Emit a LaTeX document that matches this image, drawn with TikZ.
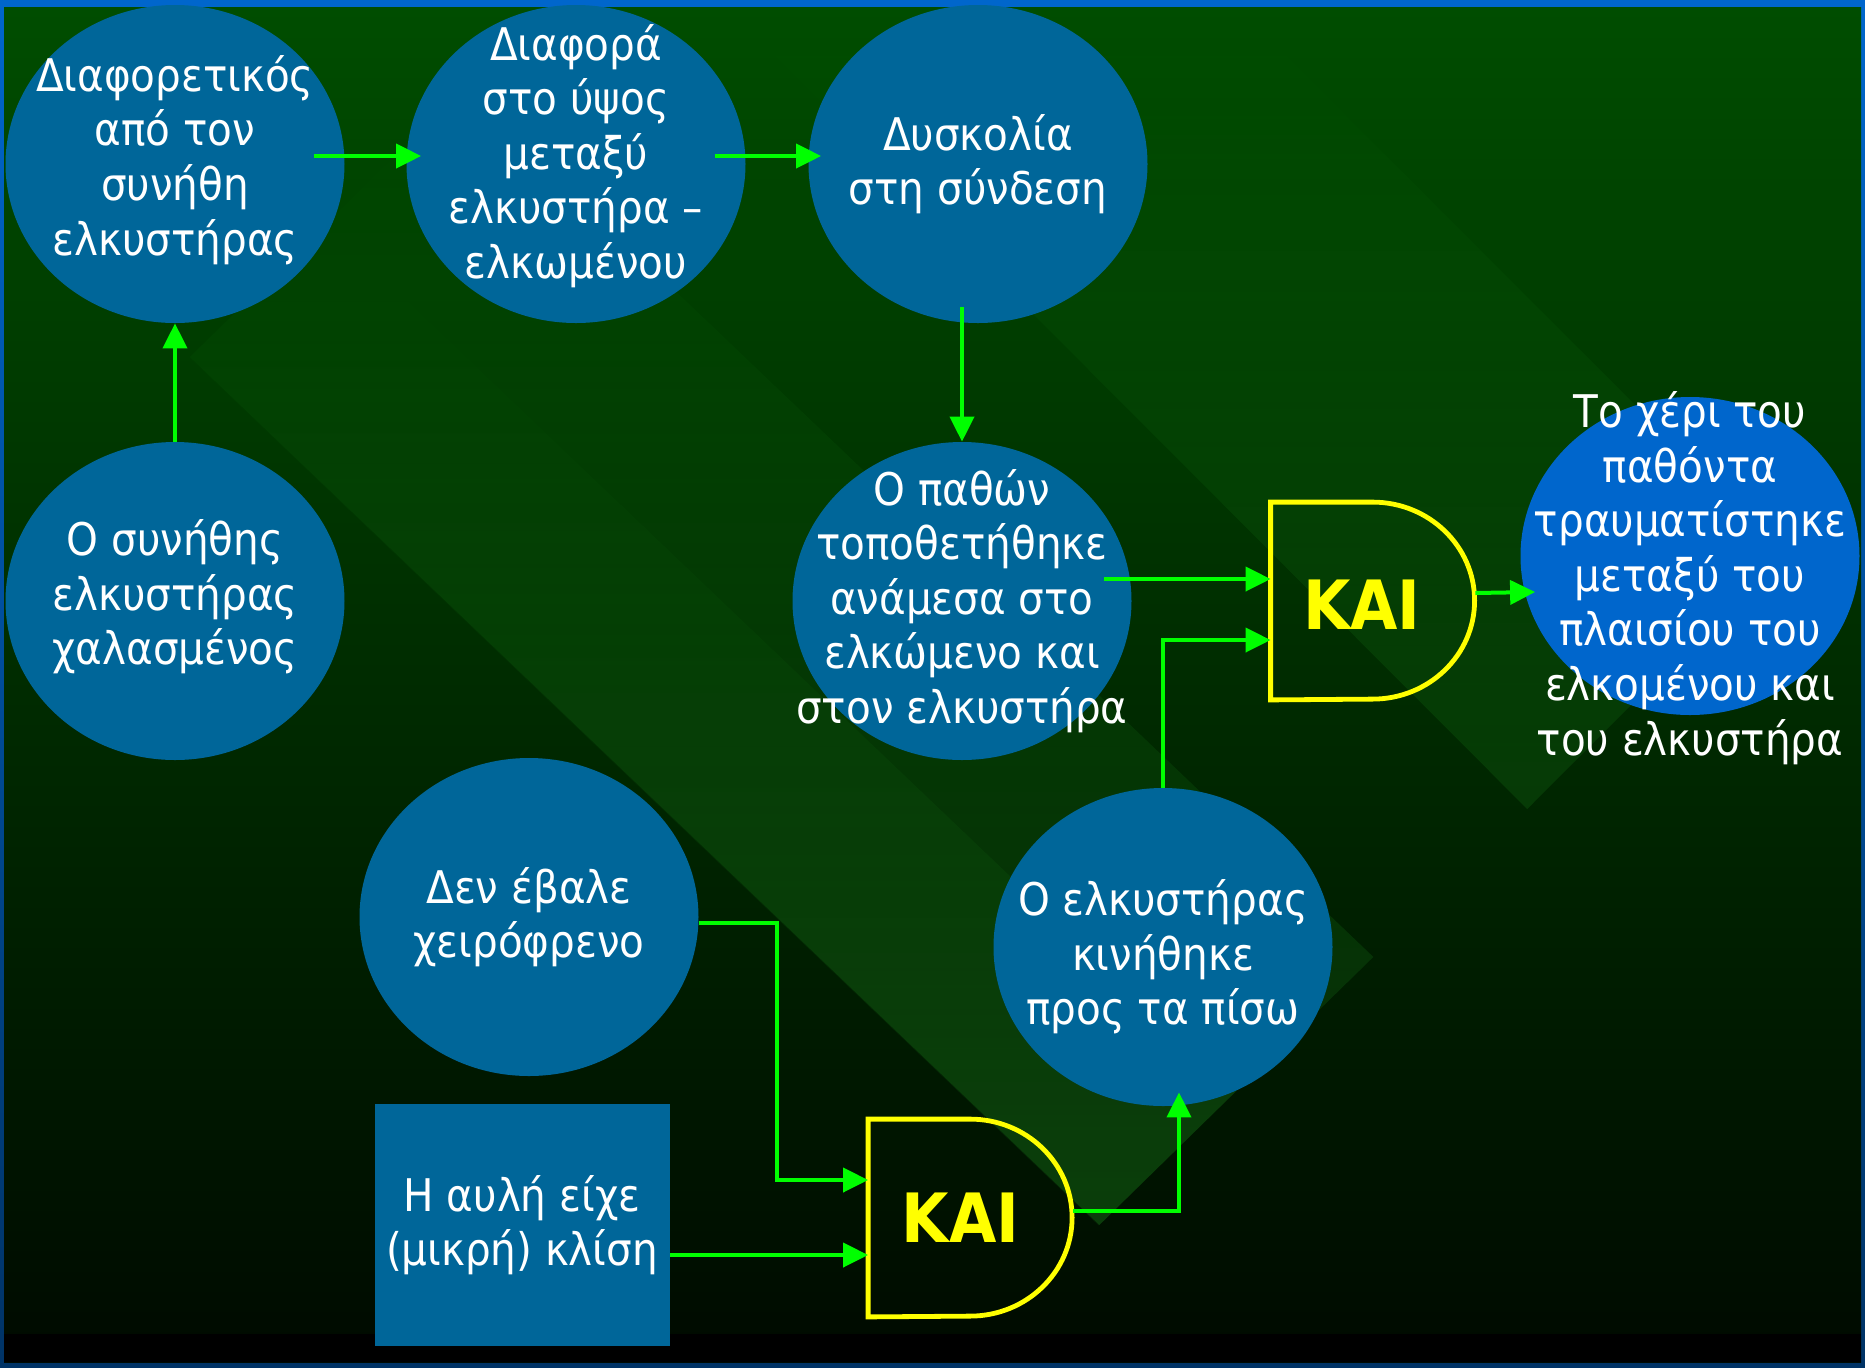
\documentclass[tikz,border=0pt]{standalone}
\usepackage{fontspec}
\setmainfont{DejaVu Sans Condensed}
\usepackage{tikz}
\usetikzlibrary{shapes.geometric, positioning, arrows.meta, fadings}

\definecolor{bubblue}{RGB}{0,102,153}
\definecolor{resblue}{RGB}{0,102,204}
\definecolor{flowgreen}{RGB}{0,255,0}
\definecolor{gateyellow}{RGB}{255,255,0}
\definecolor{frametop}{RGB}{0,102,204}
\definecolor{framebot}{RGB}{0,51,102}
\definecolor{bgtop}{RGB}{0,77,0}
\definecolor{bgmid}{RGB}{0,44,0}
\definecolor{bgbot}{RGB}{0,10,0}
\definecolor{bandgreen}{RGB}{40,170,40}

\tikzset{
  bubble/.style={ellipse, fill=bubblue, minimum width=169.5pt, minimum height=159pt, inner sep=0pt},
  bubtext/.style={text=white, align=center, font=\fontsize{22.5}{27.3}\selectfont, inner sep=0pt},
  gatebox/.style={minimum width=102pt, minimum height=98.5pt, inner sep=0pt},
  gateline/.style={draw=gateyellow, line width=2.4pt},
  kai/.style={text=gateyellow, inner sep=0pt, font=\fontsize{34}{34}\selectfont\bfseries},
  band/.style={fill=bandgreen, fill opacity=0.2, path fading=north},
  flow/.style={draw=flowgreen, line width=2pt, -{Triangle[length=12.5pt, width=12pt]}}
}

\begin{document}
\begin{tikzpicture}[x=0.5pt, y=-0.5pt, on grid]
  \useasboundingbox (0,0) rectangle (1865,1367);
  % slide background
  \shade[top color=frametop, bottom color=framebot] (0,0) rectangle (1865,1367);
  \shade[top color=bgtop, middle color=bgmid, bottom color=bgbot] (4,7) rectangle (1861,1362);
  \fill[black] (4,1334) rectangle (1861,1362);
  \fill[band] (190,357) -- (1100,1225) -- (1374,957) -- (464,89) -- cycle;
  \fill[band, fill opacity=0.12] (190,357) -- (1100,1225) -- (1237,1091) -- (327,223) -- cycle;
  \fill[band, fill opacity=0.16] (728,8) -- (1528,809) -- (1784,553) -- (1239,8) -- cycle;

  % causes
  \node[bubble, label={[bubtext, yshift=2pt]center:Διαφορετικός\\από τον\\συνήθη\\ελκυστήρας}] (e1) at (175,164) {};
  \node[bubble, label={[bubtext, yshift=4pt]center:Διαφορά\\στο ύψος\\μεταξύ\\ελκυστήρα –\\ελκωμένου}] (e2) [right=200.5pt of e1] {};
  \node[bubble, label={[bubtext]center:Δυσκολία\\στη σύνδεση}] (e3) [right=201pt of e2] {};
  \node[bubble, label={[bubtext, yshift=2pt]center:Ο συνήθης\\ελκυστήρας\\χαλασμένος}] (e4) [below=218.5pt of e1] {};
  \node[bubble, label={[bubtext]center:Ο παθών\\τοποθετήθηκε\\ανάμεσα στο\\ελκώμενο και\\στον ελκυστήρα}] (e5) [right=393.5pt of e4] {};
  \node[bubble, label={[bubtext]center:Δεν έβαλε\\χειρόφρενο}] (e6) at (529,917) {};
  \node[bubble, label={[bubtext, yshift=-5pt]center:Ο ελκυστήρας\\κινήθηκε\\προς τα πίσω}] (e7) at (1163,947) {};
  \node[bubtext, fill=bubblue, minimum width=147.5pt, minimum height=121pt] (slope) at (522,1225) {Η αυλή είχε\\(μικρή) κλίση};

  % result
  \node[bubble, fill=resblue, label={[bubtext, yshift=-11pt]center:Το χέρι του\\παθόντα\\τραυματίστηκε\\μεταξύ του\\πλαισίου του\\ελκομένου και\\του ελκυστήρα}] (res) at (1690,556) {};

  % gates
  \node[gatebox, label={[kai, xshift=-5.5pt, yshift=-2pt]center:ΚΑΙ}] (g1) [right=205.5pt of e5] {};
  \node[gatebox, label={[kai, xshift=-5pt]center:ΚΑΙ}] (g2) at (970.5,1218) {};
  \foreach \g in {g1,g2}
    \draw[gateline] (\g.north west) -- ([xshift=51pt]\g.north west)
      arc[start angle=90, end angle=-90, x radius=51pt, y radius=49.25pt] -- (\g.south west) -- cycle;

  % connectors
  \draw[flow] ([shift={(-31,-8)}]e1.east) -- ([shift={(15,-8)}]e2.west);
  \draw[flow] ([shift={(-31,-8)}]e2.east) -- ([shift={(13,-8)}]e3.west);
  \draw[flow] (e4.north) -- (e1.south);
  \draw[flow] ([shift={(-16,-16)}]e3.south) -- (e5.north);
  \draw[flow] ([shift={(-28,-22)}]e5.east) -- ([shift={(0,-22)}]g1.west);
  \draw[flow] (e7.north) |- ([shift={(0,39)}]g1.west);
  \draw[flow] ([shift={(0,-8)}]g1.east) -- ([shift={(15,36)}]res.west);
  \draw[flow] ([shift={(0,6)}]e6.east) -- ++(78,0) |- ([shift={(0,-38)}]g2.west);
  \draw[flow] ([shift={(0,30)}]slope.east) -- ([shift={(0,37)}]g2.west);
  \draw[flow] ([shift={(0,-7)}]g2.east) -| ([shift={(16,-14)}]e7.south);
\end{tikzpicture}
\end{document}
